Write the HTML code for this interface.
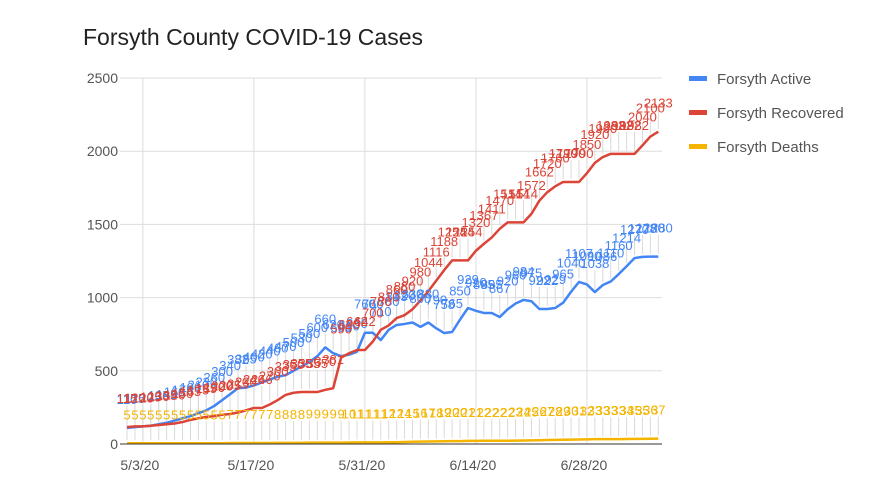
<!DOCTYPE html>
<html><head><meta charset="utf-8"><style>
body{margin:0;background:#fff;font-family:"Liberation Sans",sans-serif}
svg{display:block}
</style></head><body>
<svg id="chart" width="880" height="486" xmlns="http://www.w3.org/2000/svg">
<text x="83" y="45" font-size="23" fill="#222">Forsyth County COVID-19 Cases</text>
<g id="grid"></g><g id="hatch"></g><g id="lines"></g><g id="labels"></g><g id="axes"></g>
<g>
<g><rect x="689" y="76" width="18" height="5" fill="#4285f4"/><text x="717" y="84" font-size="15" fill="#555">Forsyth Active</text></g>
<g><rect x="689" y="110" width="18" height="5" fill="#db4437"/><text x="717" y="118" font-size="15" fill="#555">Forsyth Recovered</text></g>
<g><rect x="689" y="144" width="18" height="5" fill="#f4b400"/><text x="717" y="152" font-size="15" fill="#555">Forsyth Deaths</text></g>
</g>
</svg>
<script>
const active=[110,115,120,125,135,145,160,175,190,210,230,260,300,340,382,385,400,420,440,460,470,500,530,560,600,660,620,600,610,630,760,760,710,780,813,820,830,800,830,790,758,765,850,929,910,895,895,867,920,960,984,975,922,922,929,965,1040,1107,1090,1038,1086,1110,1160,1214,1270,1278,1280,1280];
const recovered=[115,120,120,125,130,135,140,150,165,175,185,190,200,205,215,230,246,246,270,300,335,350,355,355,355,370,381,590,620,642,642,700,780,810,860,880,920,980,1044,1116,1188,1254,1254,1254,1320,1367,1411,1470,1514,1514,1514,1572,1662,1720,1760,1790,1790,1790,1850,1920,1960,1982,1982,1982,1982,2040,2100,2133];
const deaths=[5,5,5,5,5,5,5,5,5,5,5,5,5,7,7,7,7,7,7,8,8,8,8,9,9,9,9,9,10,11,11,11,11,12,12,14,15,16,17,18,19,20,20,21,21,22,22,22,22,23,24,25,26,27,28,29,30,31,32,33,33,33,33,34,35,35,36,37];
const yTicks=[0,500,1000,1500,2000,2500];
const xTickLabels=["5/3/20","5/17/20","5/31/20","6/14/20","6/28/20"];
const xTickIdx=[2,16,30,44,58];
const NS="http://www.w3.org/2000/svg";
const X=i=>127+i*7.93, Y=v=>444-v*0.1464;
function el(t,a,p){const e=document.createElementNS(NS,t);for(const k in a)e.setAttribute(k,a[k]);document.getElementById(p).appendChild(e);return e;}
yTicks.forEach(v=>{
 const l=el('line',{x1:120,x2:662,y1:Y(v),y2:Y(v),stroke:v?'#ddd':'#333','stroke-width':1},v?'grid':'axes');
 
 
 const t=el('text',{x:118,y:Y(v)+5,'text-anchor':'end','font-size':14,fill:'#555'},'axes');t.textContent=v;
 
 
});
xTickIdx.forEach((d,k)=>{
 const l=el('line',{x1:X(d),x2:X(d),y1:Y(2500),y2:444,stroke:'#ddd'},'grid');
 
 
 const t=el('text',{x:X(d)-3,y:470,'text-anchor':'middle','font-size':14,fill:'#555'},'axes');t.textContent=xTickLabels[k];
 
 
});
[[deaths,'#f4b400','deaths'],[active,'#4285f4','active'],[recovered,'#db4437','recovered']].forEach(([s,c,n])=>{
 s.forEach((v,i)=>{
  const h=el('line',{x1:X(i),x2:X(i),y1:Y(v)-22,y2:Y(v)-3,stroke:'#dadada'},'hatch');
  
  
  const t=el('text',{x:X(i),y:Y(v)-24,'text-anchor':'middle','font-size':13,fill:c},'labels');t.textContent=v;
  
  
 });
 const p=el('polyline',{points:s.map((v,i)=>X(i)+','+Y(v)).join(' '),fill:'none',stroke:c,'stroke-width':2.5,'stroke-linejoin':'round'},'lines');
 
 
});
</script>
</body></html>
